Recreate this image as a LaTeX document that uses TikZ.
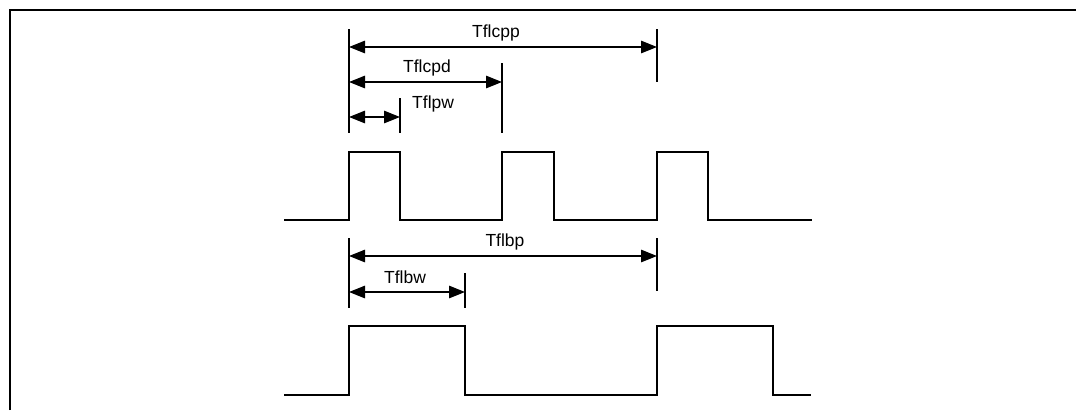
\documentclass[tikz,border=0pt]{standalone}
\usepackage{fontspec}
\setmainfont{Liberation Sans}
\usetikzlibrary{arrows.meta}
\begin{document}
\begin{tikzpicture}[x=1pt,y=-1pt,
  wave/.style={line width=1.5pt,line join=miter},
  tick/.style={line width=1.1pt},
  dim/.style={line width=1.2pt,{Triangle[length=16pt,width=12.5pt]}-{Triangle[length=16pt,width=12.5pt]}},
  lbl/.style={font=\fontsize{17.5}{19}\selectfont,inner sep=0pt},
  frame/.style={line width=2.6pt}]
\useasboundingbox (0,0) rectangle (1076,410);
% frame (open at right and bottom)
\coordinate (fbl) at (10,410);
\coordinate (ftl) at (10,10);
\coordinate (ftr) at (1076,10);
\draw[frame] (fbl) -- (ftl) -- (ftr);
% top waveform
\draw[wave] (284,220) -- (349,220) -- (349,152) -- (400,152) -- (400,220)
  -- (502,220) -- (502,152) -- (554,152) -- (554,220)
  -- (657,220) -- (657,152) -- (708,152) -- (708,220) -- (812,220);
% top dimension ticks
\coordinate (t1a) at (349,29);  \coordinate (t1b) at (349,133);
\coordinate (t2a) at (657,29);  \coordinate (t2b) at (657,82);
\coordinate (t3a) at (502,63);  \coordinate (t3b) at (502,133);
\coordinate (t4a) at (400,98);  \coordinate (t4b) at (400,133);
\draw[tick] (t1a) -- (t1b);
\draw[tick] (t2a) -- (t2b);
\draw[tick] (t3a) -- (t3b);
\draw[tick] (t4a) -- (t4b);
\coordinate (cppL) at (349,47);  \coordinate (cppR) at (657,47);
\coordinate (cpdL) at (349,82);  \coordinate (cpdR) at (502,82);
\coordinate (pwL) at (349,117);  \coordinate (pwR) at (400,117);
\draw[dim] (cppL) -- (cppR);
\draw[dim] (cpdL) -- (cpdR);
\draw[dim] (pwL) -- (pwR);
\node[lbl] (lcpp) at (496,33) {Tflcpp};
\node[lbl] (lcpd) at (427,68) {Tflcpd};
\node[lbl,anchor=west] (lpw) at (412,104) {Tflpw};
% bottom waveform
\draw[wave] (284,395) -- (349,395) -- (349,326) -- (465,326) -- (465,395)
  -- (657,395) -- (657,326) -- (773,326) -- (773,395) -- (811,395);
% bottom dimension ticks
\coordinate (b1a) at (349,238); \coordinate (b1b) at (349,308);
\coordinate (b2a) at (657,238); \coordinate (b2b) at (657,291);
\coordinate (b3a) at (465,273); \coordinate (b3b) at (465,308);
\draw[tick] (b1a) -- (b1b);
\draw[tick] (b2a) -- (b2b);
\draw[tick] (b3a) -- (b3b);
\coordinate (bpL) at (349,256); \coordinate (bpR) at (657,256);
\coordinate (bwL) at (349,292); \coordinate (bwR) at (465,292);
\draw[dim] (bpL) -- (bpR);
\draw[dim] (bwL) -- (bwR);
\node[lbl] (lbp) at (505,242) {Tflbp};
\node[lbl] (lbw) at (405,277) {Tflbw};
\end{tikzpicture}
\end{document}
